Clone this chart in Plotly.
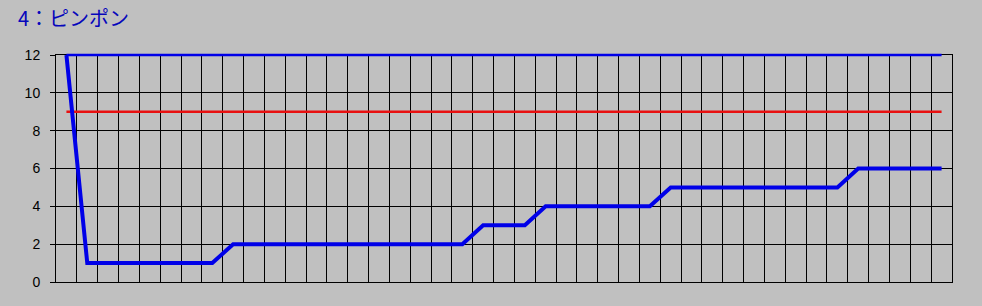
import plotly.graph_objects as go

title_text = "4：ピンポン"
x_index = list(range(43))
values = [12] + [1] * 7 + [2] * 12 + [3] * 3 + [4] * 6 + [5] * 9 + [6] * 5
upper_level = [12] * 43
target_level = [9] * 43
y_ticks = [0, 2, 4, 6, 8, 10, 12]

BLUE = "#0000E8"
RED = "#E81010"

W, H = 982, 306
T, B, L, R = 50, 24, 56, 30
plot_h = H - T - B          # 232
grid_top_px = 55
main_frac = (H - B - grid_top_px) / plot_h
y2_max = 12 / main_frac

fig = go.Figure()
fig.add_trace(go.Scatter(x=x_index, y=target_level, mode="lines", xaxis="x", yaxis="y",
                         line=dict(color=RED, width=2.5), hoverinfo="skip",
                         showlegend=False))
for ys, col, wd in [(upper_level, BLUE, 2.5), (values, BLUE, 4)]:
    fig.add_trace(go.Scatter(x=x_index, y=ys, mode="lines", xaxis="x2", yaxis="y2",
                             line=dict(color=col, width=wd), hoverinfo="skip",
                             showlegend=False))

fig.update_layout(
    width=W, height=H,
    margin=dict(l=L, r=R, t=T, b=B),
    paper_bgcolor="#C0C0C0", plot_bgcolor="rgba(0,0,0,0)",
    xaxis=dict(range=[-0.5, 42.5], tickmode="linear", tick0=-0.5, dtick=1,
               showticklabels=False, ticks="", showgrid=True, gridcolor="#000000",
               gridwidth=1, zeroline=False, showline=True, linecolor="#000000",
               linewidth=1, mirror=True, anchor="y"),
    yaxis=dict(domain=[0, main_frac], range=[0, 12], tickvals=y_ticks,
               ticktext=[str(v) for v in y_ticks],
               ticks="outside", ticklen=5, tickcolor="#000000", tickwidth=1,
               ticklabelstandoff=7,
               showgrid=True, gridcolor="#000000", gridwidth=1, zeroline=False,
               showline=True, linecolor="#000000", linewidth=1, mirror=True,
               tickfont=dict(family="Liberation Sans", size=14, color="#000000"),
               anchor="x"),
    xaxis2=dict(domain=[0, 1], range=[-0.5, 42.5], visible=False, anchor="y2"),
    yaxis2=dict(domain=[0, 1], range=[0, y2_max], visible=False, anchor="x2"),
)
fig.add_annotation(text=title_text, xref="paper", yref="paper",
                   x=(16 - L) / (W - L - R), xanchor="left",
                   y=1 + (T - 17) / plot_h, yanchor="middle", showarrow=False,
                   font=dict(family="Noto Sans CJK JP", size=20, color="#0606BC"))
fig.write_html("out.html")
